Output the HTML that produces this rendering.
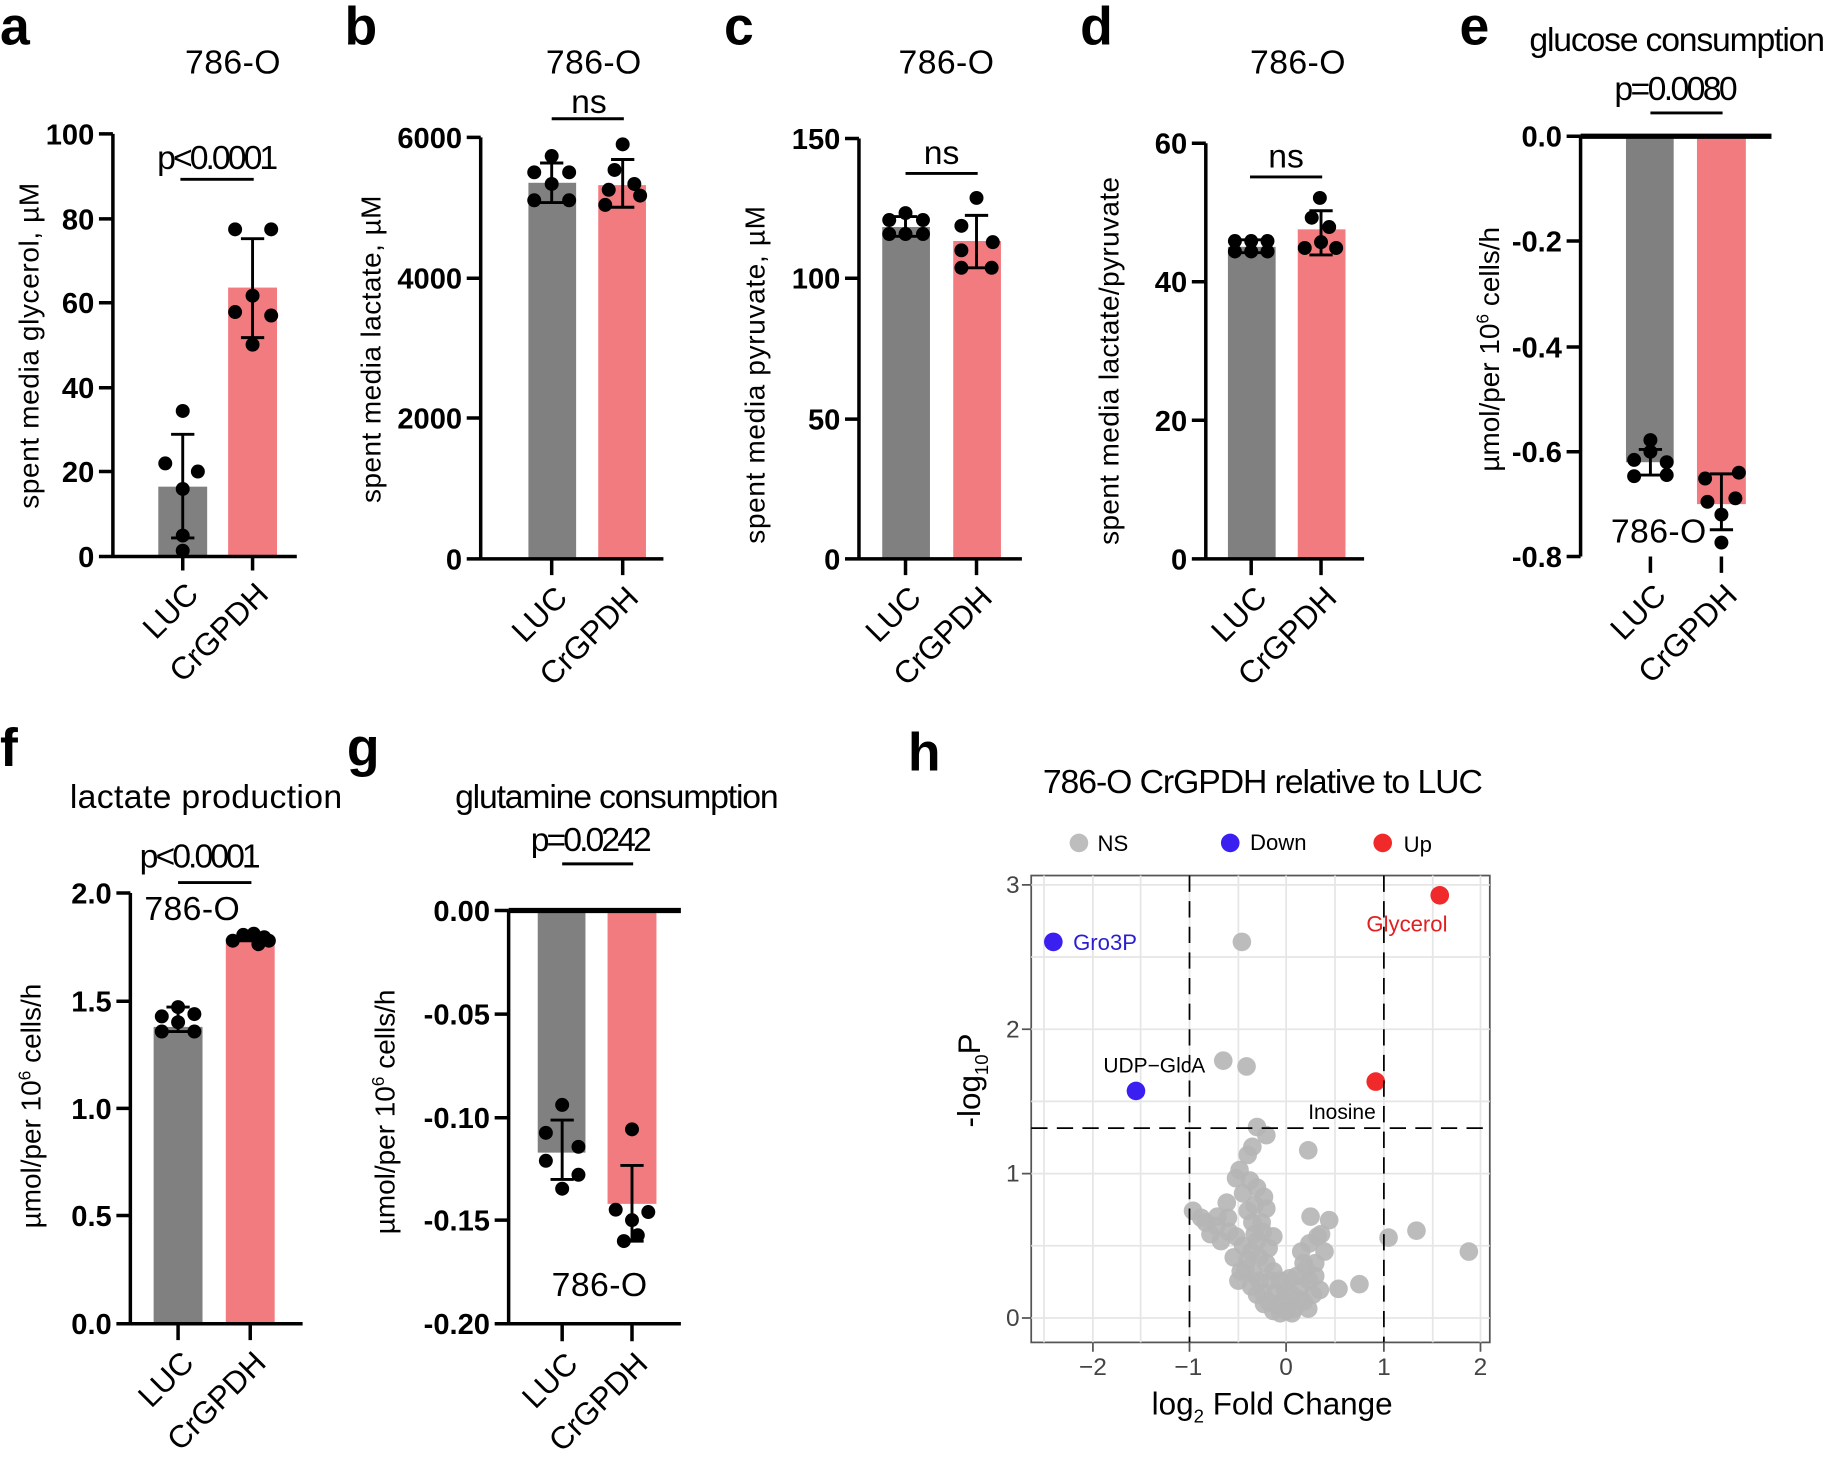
<!DOCTYPE html>
<html><head><meta charset="utf-8"><style>
html,body{margin:0;padding:0;background:#fff}
svg{display:block}
text{font-family:"Liberation Sans",sans-serif}
.L{font-weight:bold;font-size:46px}
.t{font-size:29px}
.tk{font-size:25px;font-weight:bold}
.yl{font-size:24px}
.xl{font-size:27px}
.ax{stroke:#000;stroke-width:3;fill:none}
.e{stroke:#000;stroke-width:2.5;fill:none}
.g{fill:#808080}.p{fill:#f27b80}
</style></head><body>
<svg width="1825" height="1460" viewBox="0 0 1568 1254" preserveAspectRatio="none" xmlns="http://www.w3.org/2000/svg">
<rect width="1568" height="1254" fill="#fff"/>
<text class="L" x="0" y="38">a</text>
<text class="L" x="296" y="38">b</text>
<text class="L" x="622" y="38">c</text>
<text class="L" x="928" y="38">d</text>
<text class="L" x="1254" y="38">e</text>
<text class="L" x="0" y="658">f</text>
<text class="L" x="298" y="658">g</text>
<text class="L" x="780" y="662">h</text>

<!-- Panel a -->
<text class="t" x="200" y="63" text-anchor="middle" textLength="82">786-O</text>
<text class="t" x="187" y="145" text-anchor="middle" textLength="104">p&lt;0.0001</text>
<line class="e" x1="155" y1="154" x2="218" y2="154"/>
<rect class="g" x="136" y="418" width="42" height="60"/>
<rect class="p" x="196" y="247" width="42" height="231"/>
<path class="ax" d="M97 115V478H255M85 115H97M85 188H97M85 260H97M85 333H97M85 405H97M85 478H97M157 478V490M217 478V490"/>
<g class="tk" text-anchor="end"><text x="81" y="124">100</text><text x="81" y="197">80</text><text x="81" y="269">60</text><text x="81" y="342">40</text><text x="81" y="414">20</text><text x="81" y="487">0</text></g>
<path class="e" d="M157 373V462M147 373H167M147 462H167M217 205V290M207 205H227M207 290H227"/>
<g fill="#000"><circle cx="157" cy="353" r="6"/><circle cx="142" cy="398" r="6"/><circle cx="170" cy="405" r="6"/><circle cx="157" cy="420" r="6"/><circle cx="157" cy="460" r="6"/><circle cx="157" cy="473" r="6"/>
<circle cx="202" cy="197" r="6"/><circle cx="233" cy="197" r="6"/><circle cx="217" cy="254" r="6"/><circle cx="202" cy="268" r="6"/><circle cx="233" cy="271" r="6"/><circle cx="217" cy="296" r="6"/></g>
<text class="yl" transform="translate(33,297) rotate(-90)" text-anchor="middle" textLength="280">spent media glycerol, µM</text>
<text class="xl" transform="translate(172,512) rotate(-45)" text-anchor="end">LUC</text>
<text class="xl" transform="translate(232,512) rotate(-45)" text-anchor="end">CrGPDH</text>

<!-- Panel b -->
<text class="t" x="510" y="63" text-anchor="middle" textLength="82">786-O</text>
<text class="t" x="506" y="97" text-anchor="middle">ns</text>
<line class="e" x1="474" y1="102" x2="536" y2="102"/>
<rect class="g" x="454" y="157" width="41" height="323"/>
<rect class="p" x="514" y="159" width="41" height="321"/>
<path class="ax" d="M413 118V480H570M401 118H413M401 239H413M401 359H413M401 480H413M474 480V494M535 480V494"/>
<g class="tk" text-anchor="end"><text x="397" y="127">6000</text><text x="397" y="248">4000</text><text x="397" y="368">2000</text><text x="397" y="489">0</text></g>
<path class="e" d="M474 140V174M464 140H484M464 174H484M535 137V178M525 137H545M525 178H545"/>
<g fill="#000"><circle cx="474" cy="134" r="6"/><circle cx="459" cy="148" r="6"/><circle cx="489" cy="148" r="6"/><circle cx="474" cy="158" r="6"/><circle cx="459" cy="172" r="6"/><circle cx="489" cy="172" r="6"/>
<circle cx="535" cy="124" r="6"/><circle cx="528" cy="146" r="6"/><circle cx="545" cy="158" r="6"/><circle cx="523" cy="163" r="6"/><circle cx="550" cy="168" r="6"/><circle cx="520" cy="176" r="6"/></g>
<text class="yl" transform="translate(327,300) rotate(-90)" text-anchor="middle" textLength="264">spent media lactate, µM</text>
<text class="xl" transform="translate(489,515) rotate(-45)" text-anchor="end">LUC</text>
<text class="xl" transform="translate(550,515) rotate(-45)" text-anchor="end">CrGPDH</text>

<!-- Panel c -->
<text class="t" x="813" y="63" text-anchor="middle" textLength="82">786-O</text>
<text class="t" x="809" y="141" text-anchor="middle">ns</text>
<line class="e" x1="778" y1="149" x2="840" y2="149"/>
<rect class="g" x="758" y="195" width="41" height="285"/>
<rect class="p" x="819" y="207" width="41" height="273"/>
<path class="ax" d="M738 119V480H878M726 119H738M726 239H738M726 360H738M726 480H738M778 480V494M839 480V494"/>
<g class="tk" text-anchor="end"><text x="722" y="128">150</text><text x="722" y="248">100</text><text x="722" y="369">50</text><text x="722" y="489">0</text></g>
<path class="e" d="M778 186V203M768 186H788M768 203H788M839 185V230M829 185H849M829 230H849"/>
<g fill="#000"><circle cx="778" cy="183" r="6"/><circle cx="764" cy="189" r="6"/><circle cx="793" cy="189" r="6"/><circle cx="764" cy="201" r="6"/><circle cx="778" cy="201" r="6"/><circle cx="793" cy="201" r="6"/>
<circle cx="839" cy="170" r="6"/><circle cx="826" cy="194" r="6"/><circle cx="853" cy="208" r="6"/><circle cx="826" cy="215" r="6"/><circle cx="826" cy="230" r="6"/><circle cx="852" cy="230" r="6"/></g>
<text class="yl" transform="translate(657,322) rotate(-90)" text-anchor="middle" textLength="290">spent media pyruvate, µM</text>
<text class="xl" transform="translate(793,515) rotate(-45)" text-anchor="end">LUC</text>
<text class="xl" transform="translate(854,515) rotate(-45)" text-anchor="end">CrGPDH</text>

<!-- Panel d -->
<text class="t" x="1115" y="63" text-anchor="middle" textLength="82">786-O</text>
<text class="t" x="1105" y="144" text-anchor="middle">ns</text>
<line class="e" x1="1074" y1="152" x2="1136" y2="152"/>
<rect class="g" x="1055" y="212" width="41" height="268"/>
<rect class="p" x="1115" y="197" width="41" height="283"/>
<path class="ax" d="M1036 123V480H1172M1024 123H1036M1024 242H1036M1024 361H1036M1024 480H1036M1075 480V494M1135 480V494"/>
<g class="tk" text-anchor="end"><text x="1020" y="132">60</text><text x="1020" y="251">40</text><text x="1020" y="370">20</text><text x="1020" y="489">0</text></g>
<path class="e" d="M1075 206V217M1065 206H1085M1065 217H1085M1135 181V219M1125 181H1145M1125 219H1145"/>
<g fill="#000"><circle cx="1061" cy="207" r="6"/><circle cx="1075" cy="207" r="6"/><circle cx="1089" cy="207" r="6"/><circle cx="1061" cy="216" r="6"/><circle cx="1075" cy="216" r="6"/><circle cx="1089" cy="216" r="6"/>
<circle cx="1134" cy="170" r="6"/><circle cx="1127" cy="187" r="6"/><circle cx="1142" cy="195" r="6"/><circle cx="1121" cy="213" r="6"/><circle cx="1148" cy="213" r="6"/><circle cx="1135" cy="208" r="6"/></g>
<text class="yl" transform="translate(961,310) rotate(-90)" text-anchor="middle" textLength="316">spent media lactate/pyruvate</text>
<text class="xl" transform="translate(1090,515) rotate(-45)" text-anchor="end">LUC</text>
<text class="xl" transform="translate(1150,515) rotate(-45)" text-anchor="end">CrGPDH</text>

<!-- Panel e -->
<text class="t" x="1441" y="44" text-anchor="middle" textLength="254">glucose consumption</text>
<text class="t" x="1440" y="86" text-anchor="middle" textLength="106">p=0.0080</text>
<line class="e" x1="1418" y1="97" x2="1480" y2="97"/>
<rect class="g" x="1397" y="117" width="41" height="280"/>
<rect class="p" x="1458" y="117" width="42" height="316"/>
<path class="ax" d="M1358 117V478M1346 117H1358M1346 207H1358M1346 298H1358M1346 388H1358M1346 478H1358M1418 478V492M1479 478V492"/>
<line x1="1358" y1="117" x2="1522" y2="117" stroke="#000" stroke-width="4.5"/>
<g class="tk" text-anchor="end"><text x="1342" y="126">0.0</text><text x="1342" y="216">-0.2</text><text x="1342" y="307">-0.4</text><text x="1342" y="397">-0.6</text><text x="1342" y="487">-0.8</text></g>
<path class="e" d="M1418 386V408M1408 386H1428M1408 408H1428M1479 407V455M1469 407H1489M1469 455H1489"/>
<g fill="#000"><circle cx="1418" cy="378" r="6"/><circle cx="1404" cy="395" r="6"/><circle cx="1432" cy="397" r="6"/><circle cx="1404" cy="409" r="6"/><circle cx="1432" cy="408" r="6"/><circle cx="1418" cy="388" r="6"/>
<circle cx="1494" cy="406" r="6"/><circle cx="1465" cy="411" r="6"/><circle cx="1491" cy="428" r="6"/><circle cx="1467" cy="431" r="6"/><circle cx="1479" cy="442" r="6"/><circle cx="1479" cy="466" r="6"/></g>
<text class="t" x="1425" y="466" text-anchor="middle" textLength="82">786-O</text>
<text class="yl" transform="translate(1288,300) rotate(-90)" text-anchor="middle">µmol/per 10<tspan font-size="15" dy="-9">6</tspan><tspan dy="9"> cells/h</tspan></text>
<text class="xl" transform="translate(1433,513) rotate(-45)" text-anchor="end">LUC</text>
<text class="xl" transform="translate(1494,513) rotate(-45)" text-anchor="end">CrGPDH</text>

<!-- Panel f -->
<text class="t" x="177" y="694" text-anchor="middle" textLength="234">lactate production</text>
<text class="t" x="172" y="745" text-anchor="middle" textLength="104">p&lt;0.0001</text>
<line class="e" x1="153" y1="758" x2="216" y2="758"/>
<text class="t" x="165" y="790" text-anchor="middle" textLength="82">786-O</text>
<rect class="g" x="132" y="882" width="42" height="255"/>
<rect class="p" x="194" y="806" width="42" height="331"/>
<path class="ax" d="M112 767V1137H260M100 767H112M100 860H112M100 952H112M100 1044H112M100 1137H112M153 1137V1151M215 1137V1151"/>
<g class="tk" text-anchor="end"><text x="96" y="776">2.0</text><text x="96" y="869">1.5</text><text x="96" y="961">1.0</text><text x="96" y="1053">0.5</text><text x="96" y="1146">0.0</text></g>
<path class="e" d="M153 865V886M143 865H163M143 886H163M215 802V808M205 802H225M205 808H225"/>
<g fill="#000"><circle cx="153" cy="865" r="6"/><circle cx="139" cy="873" r="6"/><circle cx="167" cy="871" r="6"/><circle cx="153" cy="878" r="6"/><circle cx="139" cy="886" r="6"/><circle cx="167" cy="886" r="6"/>
<circle cx="200" cy="808" r="6"/><circle cx="209" cy="803" r="6"/><circle cx="218" cy="802" r="6"/><circle cx="227" cy="805" r="6"/><circle cx="231" cy="808" r="6"/><circle cx="222" cy="811" r="6"/></g>
<text class="yl" transform="translate(35,950) rotate(-90)" text-anchor="middle">µmol/per 10<tspan font-size="15" dy="-9">6</tspan><tspan dy="9"> cells/h</tspan></text>
<text class="xl" transform="translate(168,1172) rotate(-45)" text-anchor="end">LUC</text>
<text class="xl" transform="translate(230,1172) rotate(-45)" text-anchor="end">CrGPDH</text>

<!-- Panel g -->
<text class="t" x="530" y="694" text-anchor="middle" textLength="278">glutamine consumption</text>
<text class="t" x="508" y="731" text-anchor="middle" textLength="104">p=0.0242</text>
<line class="e" x1="483" y1="742" x2="544" y2="742"/>
<rect class="g" x="462" y="782" width="41" height="208"/>
<rect class="p" x="522" y="782" width="42" height="252"/>
<path class="ax" d="M437 782V1137H585M425 782H437M425 871H437M425 960H437M425 1048H437M425 1137H437M483 1137V1152M543 1137V1152"/>
<line x1="437" y1="782" x2="585" y2="782" stroke="#000" stroke-width="4.5"/>
<g class="tk" text-anchor="end"><text x="421" y="791">0.00</text><text x="421" y="880">-0.05</text><text x="421" y="969">-0.10</text><text x="421" y="1057">-0.15</text><text x="421" y="1146">-0.20</text></g>
<path class="e" d="M483 962V1013M473 962H493M473 1013H493M543 1001V1066M533 1001H553M533 1066H553"/>
<g fill="#000"><circle cx="483" cy="949" r="6"/><circle cx="469" cy="973" r="6"/><circle cx="497" cy="985" r="6"/><circle cx="469" cy="997" r="6"/><circle cx="497" cy="1009" r="6"/><circle cx="483" cy="1021" r="6"/>
<circle cx="543" cy="970" r="6"/><circle cx="529" cy="1039" r="6"/><circle cx="557" cy="1041" r="6"/><circle cx="543" cy="1048" r="6"/><circle cx="536" cy="1066" r="6"/><circle cx="548" cy="1061" r="6"/></g>
<text class="t" x="515" y="1113" text-anchor="middle" textLength="82">786-O</text>
<text class="yl" transform="translate(339,955) rotate(-90)" text-anchor="middle">µmol/per 10<tspan font-size="15" dy="-9">6</tspan><tspan dy="9"> cells/h</tspan></text>
<text class="xl" transform="translate(498,1173) rotate(-45)" text-anchor="end">LUC</text>
<text class="xl" transform="translate(558,1173) rotate(-45)" text-anchor="end">CrGPDH</text>

<!-- Panel h -->
<text class="t" x="1085" y="681" text-anchor="middle" textLength="378">786-O CrGPDH relative to LUC</text>
<circle cx="927" cy="724" r="8" fill="#bdbdbd"/><text x="943" y="731" font-size="19">NS</text>
<circle cx="1057" cy="724" r="8" fill="#3a1ff0"/><text x="1074" y="730" font-size="19">Down</text>
<circle cx="1188" cy="724" r="8" fill="#f02a2a"/><text x="1206" y="732" font-size="19">Up</text>
<rect x="886" y="752" width="394" height="401" fill="#fff" stroke="#555" stroke-width="1.5"/>
<g stroke="#e6e6e6" stroke-width="1.5">
<path d="M897 752V1153M939 752V1153M980 752V1153M1022 752V1153M1064 752V1153M1105 752V1153M1147 752V1153M1189 752V1153M1231 752V1153M1272 752V1153"/>
<path d="M886 760H1280M886 822H1280M886 884H1280M886 946H1280M886 1008H1280M886 1070H1280M886 1132H1280"/>
</g>
<g fill="#b5b5b5" fill-opacity="0.9">
<circle cx="1067" cy="809" r="8"/><circle cx="1051" cy="911" r="8"/><circle cx="1071" cy="916" r="8"/>
<circle cx="1080" cy="968" r="8"/><circle cx="1088" cy="975" r="8"/><circle cx="1076" cy="985" r="8"/><circle cx="1072" cy="992" r="8"/><circle cx="1124" cy="988" r="8"/>
<circle cx="1065" cy="1005" r="8"/><circle cx="1062" cy="1012" r="8"/><circle cx="1068" cy="1025" r="8"/><circle cx="1080" cy="1020" r="8"/><circle cx="1054" cy="1033" r="8"/>
<circle cx="1078" cy="1035" r="8"/><circle cx="1088" cy="1038" r="8"/><circle cx="1072" cy="1040" r="8"/><circle cx="1084" cy="1050" r="8"/>
<circle cx="1025" cy="1040" r="8"/><circle cx="1032" cy="1046" r="8"/><circle cx="1045" cy="1053" r="8"/><circle cx="1055" cy="1046" r="8"/><circle cx="1040" cy="1060" r="8"/><circle cx="1049" cy="1066" r="8"/><circle cx="1056" cy="1058" r="8"/>
<circle cx="1085" cy="1058" r="8"/><circle cx="1080" cy="1066" r="8"/><circle cx="1090" cy="1072" r="8"/><circle cx="1075" cy="1075" r="8"/>
<circle cx="1070" cy="1090" r="8"/><circle cx="1078" cy="1095" r="8"/><circle cx="1088" cy="1085" r="8"/><circle cx="1064" cy="1100" r="8"/><circle cx="1075" cy="1105" r="8"/><circle cx="1085" cy="1110" r="8"/>
<circle cx="1092" cy="1100" r="8"/><circle cx="1090" cy="1118" r="8"/><circle cx="1098" cy="1122" r="8"/><circle cx="1105" cy="1126" r="8"/><circle cx="1112" cy="1124" r="8"/><circle cx="1120" cy="1118" r="8"/>
<circle cx="1096" cy="1110" r="8"/><circle cx="1100" cy="1100" r="8"/><circle cx="1110" cy="1112" r="8"/><circle cx="1118" cy="1105" r="8"/><circle cx="1125" cy="1100" r="8"/><circle cx="1128" cy="1112" r="8"/>
<circle cx="1122" cy="1090" r="8"/><circle cx="1130" cy="1085" r="8"/><circle cx="1118" cy="1075" r="8"/><circle cx="1125" cy="1068" r="8"/><circle cx="1132" cy="1062" r="8"/><circle cx="1138" cy="1075" r="8"/>
<circle cx="1126" cy="1045" r="8"/><circle cx="1142" cy="1048" r="8"/><circle cx="1135" cy="1060" r="8"/>
<circle cx="1150" cy="1107" r="8"/><circle cx="1168" cy="1103" r="8"/><circle cx="1193" cy="1063" r="8"/><circle cx="1217" cy="1057" r="8"/><circle cx="1262" cy="1075" r="8"/>
<circle cx="1060" cy="1080" r="8"/><circle cx="1068" cy="1070" r="8"/><circle cx="1102" cy="1118" r="8"/><circle cx="1114" cy="1096" r="8"/><circle cx="1082" cy="1100" r="8"/>
<circle cx="1078" cy="1060" r="8"/><circle cx="1072" cy="1082" r="8"/><circle cx="1082" cy="1080" r="8"/><circle cx="1094" cy="1092" r="8"/><circle cx="1104" cy="1108" r="8"/><circle cx="1108" cy="1098" r="8"/>
<circle cx="1100" cy="1128" r="8"/><circle cx="1110" cy="1128" r="8"/><circle cx="1116" cy="1116" r="8"/><circle cx="1086" cy="1120" r="8"/><circle cx="1080" cy="1112" r="8"/><circle cx="1066" cy="1092" r="8"/>
<circle cx="1120" cy="1085" r="8"/><circle cx="1130" cy="1096" r="8"/><circle cx="1134" cy="1108" r="8"/><circle cx="1124" cy="1124" r="8"/><circle cx="1094" cy="1126" r="8"/><circle cx="1076" cy="1050" r="8"/>
<circle cx="1036" cy="1050" r="8"/><circle cx="1046" cy="1045" r="8"/><circle cx="1062" cy="1062" r="8"/><circle cx="1086" cy="1028" r="8"/><circle cx="1074" cy="1014" r="8"/><circle cx="1094" cy="1062" r="8"/>
</g>
<circle cx="905" cy="809" r="8" fill="#3a1ff0"/><circle cx="976" cy="937" r="8" fill="#3a1ff0"/>
<circle cx="1237" cy="769" r="8" fill="#f02a2a"/><circle cx="1182" cy="929" r="8" fill="#f02a2a"/>
<g stroke="#000" stroke-width="1.5" stroke-dasharray="14,8"><line x1="1022" y1="752" x2="1022" y2="1153"/><line x1="1189" y1="752" x2="1189" y2="1153"/><line x1="886" y1="969" x2="1280" y2="969"/></g>
<text x="922" y="816" font-size="19" fill="#2a1fd0">Gro3P</text>
<text x="1174" y="800" font-size="19" fill="#e02020">Glycerol</text>
<text x="948" y="921" font-size="18">UDP−GlcA</text>
<text x="1124" y="961" font-size="18">Inosine</text>
<path d="M878 760H886M878 884H886M878 1008H886M878 1132H886M939 1153V1161M1022 1153V1161M1105 1153V1161M1189 1153V1161M1272 1153V1161" stroke="#555" stroke-width="1.5"/>
<g font-size="21" fill="#444" text-anchor="end"><text x="876" y="767">3</text><text x="876" y="891">2</text><text x="876" y="1015">1</text><text x="876" y="1139">0</text></g>
<g font-size="21" fill="#444" text-anchor="middle"><text x="939" y="1181">−2</text><text x="1021" y="1181">−1</text><text x="1105" y="1181">0</text><text x="1189" y="1181">1</text><text x="1272" y="1181">2</text></g>
<text x="1093" y="1215" font-size="27" text-anchor="middle">log<tspan font-size="16" dy="7">2</tspan><tspan dy="-7"> Fold Change</tspan></text>
<text transform="translate(842,928) rotate(-90)" font-size="27" text-anchor="middle">-log<tspan font-size="16" dy="7">10</tspan><tspan dy="-7">P</tspan></text>
</svg>
</body></html>
